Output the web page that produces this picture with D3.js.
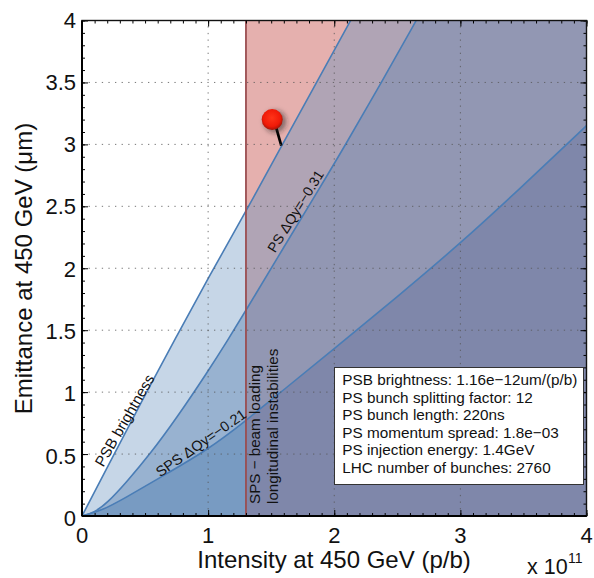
<!DOCTYPE html>
<html>
<head>
<meta charset="utf-8">
<script src="https://cdn.jsdelivr.net/npm/d3@7"></script>
<style>
body { margin: 0; background: #fff; }
text { font-family: "Liberation Sans", Arial, sans-serif; fill: #111; }
</style>
</head>
<body>
<div id="chart"></div>
<script>
// curves, intensity in 1e11 p/b, emittance in um
var psbX = [0, 0.25, 0.5, 0.75, 1, 1.3, 1.6, 1.87, 2.12, 2.3];
var psbY = [0, 0.49, 0.98, 1.45, 1.92, 2.46, 3.02, 3.52, 3.98, 4.32];
var psX = [0, 0.1, 0.2, 0.35, 0.54, 0.75, 1, 1.15, 1.3, 1.6, 1.88, 2.08, 2.39, 2.64, 2.8];
var psY = [0, 0.03, 0.105, 0.27, 0.5, 0.79, 1.17, 1.41, 1.66, 2.17, 2.64, 2.98, 3.53, 3.98, 4.28];
var spsX = [0, 0.15, 0.35, 0.6, 1, 1.3, 1.6, 2, 2.5, 3, 3.5, 4, 4.1];
var spsY = [0, 0.04, 0.15, 0.3, 0.535, 0.77, 1.02, 1.35, 1.77, 2.2, 2.67, 3.15, 3.25];
var limitX = 1.3;
var pinBall = [1.508, 3.2];
var pinTip = [1.58, 2.99];
var xTicks = [0, 1, 2, 3, 4];
var yTicks = [0, 0.5, 1, 1.5, 2, 2.5, 3, 3.5, 4];
var leftColors = ['#c6d6e7', '#98b2d0', '#789bc2'];
var rightColors = ['#b0a4b5', '#9297b3', '#7f87aa'];
var infoLines = [
	'PSB brightness: 1.16e\u221212um/(p/b)',
	'PS bunch splitting factor: 12',
	'PS bunch length: 220ns',
	'PS momentum spread: 1.8e\u221203',
	'PS injection energy: 1.4GeV',
	'LHC number of bunches: 2760'
];

var left = 82, right = 586.5, top_ = 20.5, bottom = 516;
var x = d3.scaleLinear().domain([0, 4]).range([left, right]);
var y = d3.scaleLinear().domain([0, 4]).range([bottom, top_]);

var svg = d3.select('#chart').append('svg')
	.attr('width', 594)
	.attr('height', 578)
	.style('display', 'block');

var defs = svg.append('defs');
defs.append('clipPath').attr('id', 'plot').append('rect')
	.attr('x', left).attr('y', top_)
	.attr('width', right - left).attr('height', bottom - top_);
defs.append('clipPath').attr('id', 'leftside').append('rect')
	.attr('x', left).attr('y', top_)
	.attr('width', x(limitX) - left).attr('height', bottom - top_);
defs.append('clipPath').attr('id', 'rightside').append('rect')
	.attr('x', x(limitX)).attr('y', top_)
	.attr('width', right - x(limitX)).attr('height', bottom - top_);
var ballGrad = defs.append('radialGradient').attr('id', 'ball')
	.attr('cx', '48%').attr('cy', '42%').attr('r', '58%');
ballGrad.append('stop').attr('offset', '0%').attr('stop-color', '#ff3418');
ballGrad.append('stop').attr('offset', '70%').attr('stop-color', '#f01a08');
ballGrad.append('stop').attr('offset', '100%').attr('stop-color', '#a01408');
defs.append('filter').attr('id', 'blur')
	.attr('x', '-50%').attr('y', '-50%').attr('width', '200%').attr('height', '200%')
	.append('feGaussianBlur').attr('stdDeviation', 2.5);

var plot = svg.append('g').attr('clip-path', 'url(#plot)');

var line = d3.line().x(function(d) { return x(d[0]); }).y(function(d) { return y(d[1]); })
	.curve(d3.curveBasis);
var curves = [d3.zip(psbX, psbY), d3.zip(psX, psY), d3.zip(spsX, spsY)];

// area under a curve, closed along the bottom right corner
var under = function(pts) {
	var end = pts[pts.length - 1];
	return line(pts) + 'L' + x(end[0]) + ',' + y(4.5) + 'L' + x(4.2) + ',' + y(4.5) + 'L' + x(4.2) + ',' + y(0) + 'L' + x(0) + ',' + y(0) + 'Z';
};

// red region first, bands painted over it on each side of the limit
var rightSide = plot.append('g').attr('clip-path', 'url(#rightside)');
rightSide.append('rect')
	.attr('x', x(limitX)).attr('y', y(4))
	.attr('width', x(4) - x(limitX)).attr('height', y(0) - y(4))
	.attr('fill', '#e5b0ae');
var leftSide = plot.append('g').attr('clip-path', 'url(#leftside)');

curves.forEach(function(pts, i) {
	leftSide.append('path').attr('d', under(pts)).attr('fill', leftColors[i]);
	rightSide.append('path').attr('d', under(pts)).attr('fill', rightColors[i]);
});

curves.forEach(function(pts) {
	plot.append('path').attr('d', line(pts))
		.attr('fill', 'none').attr('stroke', '#4a7db6').attr('stroke-width', 1.6);
});

plot.append('line')
	.attr('x1', x(limitX)).attr('x2', x(limitX))
	.attr('y1', y(0)).attr('y2', y(4))
	.attr('stroke', '#9a4d50').attr('stroke-width', 1.8);

// dotted grid
var grid = svg.append('g').attr('stroke', '#555').attr('stroke-opacity', 0.8)
	.attr('stroke-width', 1).attr('stroke-dasharray', '1.3,5.3');
grid.selectAll('.gx').data(xTicks.slice(1, -1)).enter().append('line')
	.attr('x1', function(d) { return x(d); }).attr('x2', function(d) { return x(d); })
	.attr('y1', bottom).attr('y2', top_);
grid.selectAll('.gy').data(yTicks.slice(1, -1)).enter().append('line')
	.attr('x1', left).attr('x2', right)
	.attr('y1', function(d) { return y(d); }).attr('y2', function(d) { return y(d); });

// pin
plot.append('line')
	.attr('x1', x(pinBall[0]) + 4).attr('y1', y(pinBall[1]) + 8)
	.attr('x2', x(pinTip[0])).attr('y2', y(pinTip[1]))
	.attr('stroke', '#000').attr('stroke-width', 2.7);
plot.append('circle')
	.attr('cx', x(pinBall[0]) + 3).attr('cy', y(pinBall[1]) + 2).attr('r', 11)
	.attr('fill', '#222').attr('fill-opacity', 0.5).attr('filter', 'url(#blur)');
plot.append('circle')
	.attr('cx', x(pinBall[0])).attr('cy', y(pinBall[1])).attr('r', 10.5)
	.attr('fill', 'url(#ball)');

// axes, inward ticks on all four sides
var minor = d3.range(0, 41).map(function(d) { return d / 10; });
var frame = svg.append('g');
var axisStyle = function(g) {
	g.select('.domain').remove();
	g.selectAll('line').attr('stroke', '#000').attr('stroke-width', 1);
	g.selectAll('text').remove();
};
frame.append('g').attr('transform', 'translate(0,' + bottom + ')')
	.call(d3.axisBottom(x).tickValues(minor).tickSize(-3)).call(axisStyle);
frame.append('g').attr('transform', 'translate(0,' + top_ + ')')
	.call(d3.axisTop(x).tickValues(minor).tickSize(-3)).call(axisStyle);
frame.append('g').attr('transform', 'translate(' + left + ',0)')
	.call(d3.axisLeft(y).tickValues(minor).tickSize(-3)).call(axisStyle);
frame.append('g').attr('transform', 'translate(' + right + ',0)')
	.call(d3.axisRight(y).tickValues(minor).tickSize(-3)).call(axisStyle);
frame.append('g').attr('transform', 'translate(0,' + bottom + ')')
	.call(d3.axisBottom(x).tickValues(xTicks).tickSize(-6)).call(axisStyle);
frame.append('g').attr('transform', 'translate(0,' + top_ + ')')
	.call(d3.axisTop(x).tickValues(xTicks).tickSize(-6)).call(axisStyle);
frame.append('g').attr('transform', 'translate(' + left + ',0)')
	.call(d3.axisLeft(y).tickValues(yTicks).tickSize(-6)).call(axisStyle);
frame.append('g').attr('transform', 'translate(' + right + ',0)')
	.call(d3.axisRight(y).tickValues(yTicks).tickSize(-6)).call(axisStyle);
frame.append('rect')
	.attr('x', left).attr('y', top_)
	.attr('width', right - left).attr('height', bottom - top_)
	.attr('fill', 'none').attr('stroke', '#111').attr('stroke-width', 1.4);
frame.append('line')
	.attr('x1', left).attr('x2', right).attr('y1', bottom).attr('y2', bottom)
	.attr('stroke', '#000').attr('stroke-width', 2);
frame.append('line')
	.attr('x1', left).attr('x2', left).attr('y1', top_).attr('y2', bottom)
	.attr('stroke', '#000').attr('stroke-width', 2);

// tick labels
svg.selectAll('.xl').data(xTicks).enter().append('text')
	.attr('x', function(d) { return x(d); }).attr('y', 543)
	.attr('text-anchor', 'middle').attr('font-size', 22)
	.text(function(d) { return d; });
svg.selectAll('.yl').data(yTicks).enter().append('text')
	.attr('x', 76).attr('y', function(d) { return y(d) + 10 - 0.75 * d; })
	.attr('text-anchor', 'end').attr('font-size', 22)
	.text(function(d) { return d; });

// axis titles
svg.append('text').attr('x', 334).attr('y', 568)
	.attr('text-anchor', 'middle').attr('font-size', 24)
	.text('Intensity at 450 GeV (p/b)');
svg.append('text')
	.attr('transform', 'translate(31.5,268.5) rotate(-90)')
	.attr('text-anchor', 'middle').attr('font-size', 24)
	.text('Emittance at 450 GeV (\u03bcm)');
svg.append('text').attr('x', 527).attr('y', 574).attr('font-size', 21.5).text('x 10');
svg.append('text').attr('x', 568).attr('y', 563).attr('font-size', 14).text('11');

// curve labels
var note = function(px, py, angle, size, s) {
	svg.append('text')
		.attr('transform', 'translate(' + x(px) + ',' + y(py) + ') rotate(' + angle + ')')
		.attr('font-size', size)
		.text(s);
};
note(0.169, 0.39, -60, 15, 'PSB brightness');
note(0.62, 0.31, -35, 14.5, 'SPS \u0394Qy=\u22120.21');
note(1.53, 2.12, -58, 14, 'PS \u0394Qy=\u22120.31');
note(1.413, 0.097, -90, 15.2, 'SPS \u2212 beam loading');
note(1.553, 0.097, -90, 15.2, 'longitudinal instabilities');

// info box
var box = svg.append('g');
box.append('rect')
	.attr('x', 334.5).attr('y', 367.5).attr('width', 249).attr('height', 117)
	.attr('fill', '#fff').attr('stroke', '#333').attr('stroke-width', 1);
box.selectAll('text').data(infoLines).enter().append('text')
	.attr('x', 342.3).attr('y', function(d, i) { return 385 + i * 17.5; })
	.attr('font-size', 15.3)
	.text(function(d) { return d; });
</script>
</body>
</html>
